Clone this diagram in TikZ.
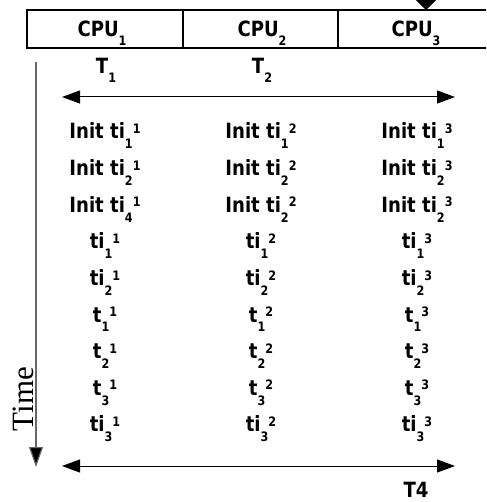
\documentclass[tikz,border=0pt]{standalone}
\usepackage{fontspec}
\usepackage{tikz}
\setmainfont{Liberation Serif}
\setsansfont[FakeStretch=0.86]{DejaVu Sans}
\usetikzlibrary{arrows.meta}
\newcommand{\ix}[3]{#1\raisebox{-0.47em}{\fontsize{13}{13}\selectfont #2}\raisebox{0.25em}{\fontsize{13}{13}\selectfont #3}}
\newcommand{\lowix}[2]{#1\raisebox{-0.4em}{\fontsize{13}{13}\selectfont #2}}

\begin{document}
\begin{tikzpicture}[x=1pt,y=-1pt,
    lbl/.style={font=\sffamily\bfseries\fontsize{21}{24}\selectfont,inner sep=0pt,anchor=base},
    cpubar/.style={line width=2.5pt},
    dspan/.style={line width=1pt,{Triangle[length=18pt,width=13pt]}-{Triangle[length=18pt,width=13pt]}},
    taxis/.style={line width=1.2pt,draw=black!60,-{Triangle[length=20pt,width=14pt,fill=black]}}]
            \clip (0,0) rectangle (486,502);
            \useasboundingbox (0,0) rectangle (486,502);

            \draw[cpubar] (490,10) -- (27,10) -- (27,48) -- (490,48);
            \draw[cpubar] (183,10) -- (183,48);
            \draw[cpubar] (338,10) -- (338,48);
            \coordinate (mtop) at (426,-20);
            \coordinate (mbot) at (426,10);
            \draw[line width=1pt,-{Triangle[length=14pt,width=28pt]}] (mtop) -- (mbot);

            \node[lbl] (cpua) at (102,37) {\lowix{CPU}{1}};
            \node[lbl] (cpub) at (262,37) {\lowix{CPU}{2}};
            \node[lbl] (cpuc) at (416,37) {\lowix{CPU}{3}};

            \node[lbl] (ta) at (106,74) {\lowix{T}{1}};
            \node[lbl] (tb) at (262,74) {\lowix{T}{2}};

            \coordinate (sl) at (62,97);
            \coordinate (sr) at (455,97);
            \draw[dspan] (sl) -- (sr);

            \node[lbl] (a1) at (105,139) {Init \ix{ti}{1}{1}};
            \node[lbl] (a2) at (105,175.6) {Init \ix{ti}{2}{1}};
            \node[lbl] (a3) at (105,212.2) {Init \ix{ti}{4}{1}};
            \node[lbl] (a4) at (105,248.8) {\ix{ti}{1}{1}};
            \node[lbl] (a5) at (105,285.4) {\ix{ti}{2}{1}};
            \node[lbl] (a6) at (105,322) {\ix{t}{1}{1}};
            \node[lbl] (a7) at (105,358.6) {\ix{t}{2}{1}};
            \node[lbl] (a8) at (105,395.2) {\ix{t}{3}{1}};
            \node[lbl] (a9) at (105,431.8) {\ix{ti}{3}{1}};

            \node[lbl] (b1) at (261,139) {Init \ix{ti}{1}{2}};
            \node[lbl] (b2) at (261,175.6) {Init \ix{ti}{2}{2}};
            \node[lbl] (b3) at (261,212.2) {Init \ix{ti}{2}{2}};
            \node[lbl] (b4) at (261,248.8) {\ix{ti}{1}{2}};
            \node[lbl] (b5) at (261,285.4) {\ix{ti}{2}{2}};
            \node[lbl] (b6) at (261,322) {\ix{t}{1}{2}};
            \node[lbl] (b7) at (261,358.6) {\ix{t}{2}{2}};
            \node[lbl] (b8) at (261,395.2) {\ix{t}{3}{2}};
            \node[lbl] (b9) at (261,431.8) {\ix{ti}{3}{2}};

            \node[lbl] (c1) at (417,139) {Init \ix{ti}{1}{3}};
            \node[lbl] (c2) at (417,175.6) {Init \ix{ti}{2}{3}};
            \node[lbl] (c3) at (417,212.2) {Init \ix{ti}{2}{3}};
            \node[lbl] (c4) at (417,248.8) {\ix{ti}{1}{3}};
            \node[lbl] (c5) at (417,285.4) {\ix{ti}{2}{3}};
            \node[lbl] (c6) at (417,322) {\ix{t}{1}{3}};
            \node[lbl] (c7) at (417,358.6) {\ix{t}{2}{3}};
            \node[lbl] (c8) at (417,395.2) {\ix{t}{3}{3}};
            \node[lbl] (c9) at (417,431.8) {\ix{ti}{3}{3}};

            \coordinate (el) at (62,466);
            \coordinate (er) at (455,466);
            \draw[dspan] (el) -- (er);
            \node[lbl] (tc) at (416,497) {T4};

            \coordinate (tt) at (36,62);
            \coordinate (tbot) at (36,467);
            \draw[taxis] (tt) -- (tbot);
            \node[font=\fontsize{31}{34}\selectfont,rotate=90,inner sep=0pt] (time) at (23,399) {Time};
         \end{tikzpicture}
\end{document}
